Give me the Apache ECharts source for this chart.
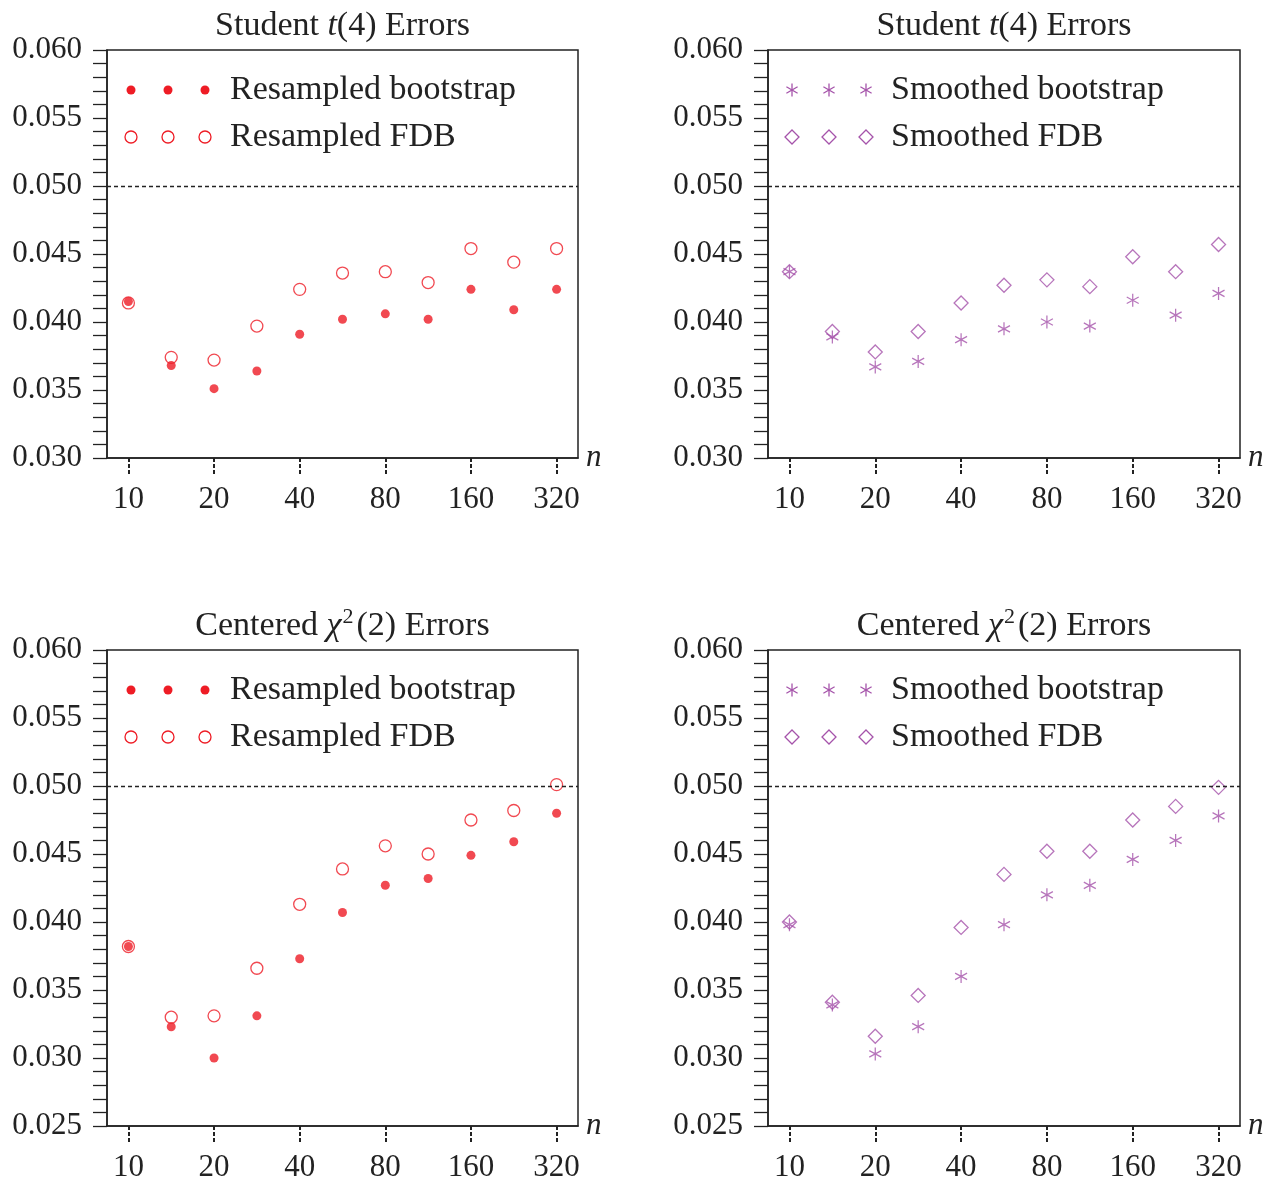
<!DOCTYPE html>
<html>
<head>
<meta charset="utf-8">
<title>Bootstrap test errors</title>
<script src="https://cdn.jsdelivr.net/npm/echarts@6.0.0/dist/echarts.min.js"></script>
<style>
  html, body { margin: 0; padding: 0; background: #fff; }
  #chart { width: 1270px; height: 1178px; }
</style>
</head>
<body>
<div id="chart"></div>
<script>
// sample sizes (log2 spacing, labels on every other one)
const sampleSizes = ['10', '14', '20', '28', '40', '57', '80', '113', '160', '226', '320'];

// Student t(4) errors
const t4ResampledBoot = [0.0415, 0.0368, 0.0351, 0.0364, 0.0391, 0.0402, 0.0406, 0.0402, 0.0424, 0.0409, 0.0424];
const t4ResampledFdb  = [0.0414, 0.0374, 0.0372, 0.0397, 0.0424, 0.0436, 0.0437, 0.0429, 0.0454, 0.0444, 0.0454];
const t4SmoothedBoot  = [0.0437, 0.0389, 0.0367, 0.0371, 0.0387, 0.0395, 0.0400, 0.0397, 0.0416, 0.0405, 0.0421];
const t4SmoothedFdb   = [0.0437, 0.0393, 0.0378, 0.0393, 0.0414, 0.0427, 0.0431, 0.0426, 0.0448, 0.0437, 0.0457];

// Centered chi^2(2) errors
const chiResampledBoot = [0.0382, 0.0323, 0.0300, 0.0331, 0.0373, 0.0407, 0.0427, 0.0432, 0.0449, 0.0459, 0.0480];
const chiResampledFdb  = [0.0382, 0.0330, 0.0331, 0.0366, 0.0413, 0.0439, 0.0456, 0.0450, 0.0475, 0.0482, 0.0501];
const chiSmoothedBoot  = [0.0398, 0.0339, 0.0303, 0.0323, 0.0360, 0.0398, 0.0420, 0.0427, 0.0446, 0.0460, 0.0478];
const chiSmoothedFdb   = [0.0400, 0.0341, 0.0316, 0.0346, 0.0396, 0.0435, 0.0452, 0.0452, 0.0475, 0.0485, 0.0499];

const nominalLevel = 0.05;

const RED = '#ee1c25';
const PURPLE = '#a553aa';
const INK = '#222';
const SERIF = '"Liberation Serif", "DejaVu Serif", serif';

const ASTERISK = 'path://M5,0L5,10M0.67,2.5L9.33,7.5M0.67,7.5L9.33,2.5';

const marks = {
  dot:      { symbol: 'circle',  symbolSize: 9,  itemStyle: { color: RED } },
  ring:     { symbol: 'circle',  symbolSize: 12, itemStyle: { color: 'rgba(0,0,0,0)', borderColor: RED, borderWidth: 1.3 } },
  asterisk: { symbol: ASTERISK,  symbolSize: [12, 13], itemStyle: { color: 'rgba(0,0,0,0)', borderColor: PURPLE, borderWidth: 1.3 } },
  diamond:  { symbol: 'diamond', symbolSize: [14, 14], itemStyle: { color: 'rgba(0,0,0,0)', borderColor: PURPLE, borderWidth: 1.3 } }
};

const panels = [
  { left: 107, top: 50,  width: 471, height: 408, yMin: 0.030, title: 'Student t(4)',
    series: [['Resampled bootstrap', t4ResampledBoot, 'dot'], ['Resampled FDB', t4ResampledFdb, 'ring']] },
  { left: 768, top: 50,  width: 472, height: 408, yMin: 0.030, title: 'Student t(4)',
    series: [['Smoothed bootstrap', t4SmoothedBoot, 'asterisk'], ['Smoothed FDB', t4SmoothedFdb, 'diamond']] },
  { left: 107, top: 650, width: 471, height: 476, yMin: 0.025, title: 'chi',
    series: [['Resampled bootstrap', chiResampledBoot, 'dot'], ['Resampled FDB', chiResampledFdb, 'ring']] },
  { left: 768, top: 650, width: 472, height: 476, yMin: 0.025, title: 'chi',
    series: [['Smoothed bootstrap', chiSmoothedBoot, 'asterisk'], ['Smoothed FDB', chiSmoothedFdb, 'diamond']] }
];

const titleRich = {
  a: { fontFamily: SERIF, fontSize: 34, fontWeight: 'normal', color: INK, lineHeight: 40 },
  i: { fontFamily: SERIF, fontSize: 34, fontWeight: 'normal', color: INK, fontStyle: 'italic', lineHeight: 40 },
  s: { fontFamily: SERIF, fontSize: 22, fontWeight: 'normal', color: INK, lineHeight: 24, verticalAlign: 'top', padding: [0, 3, 0, 1] }
};

const grids = [], xAxes = [], yAxes = [], series = [], titles = [], graphics = [];

panels.forEach((p, k) => {
  grids.push({ left: p.left, top: p.top, width: p.width, height: p.height,
               containLabel: false, outerBoundsMode: 'none',
               show: true, borderColor: INK, borderWidth: 1.5, backgroundColor: 'transparent' });

  xAxes.push({
    type: 'category', gridIndex: k, data: sampleSizes, boundaryGap: true,
    name: 'n', nameLocation: 'end', nameGap: 8,
    nameTextStyle: { fontFamily: SERIF, fontStyle: 'italic', fontSize: 31, color: INK },
    axisLine: { lineStyle: { color: INK, width: 1.5 } },
    axisTick: { show: true, interval: 1, alignWithLabel: true, inside: false, length: 18,
                lineStyle: { color: INK, width: 2, type: [4, 2] } },
    axisLabel: { interval: 1, margin: 26, fontFamily: SERIF, fontSize: 31, color: INK },
    splitLine: { show: false }
  });

  yAxes.push({
    type: 'value', gridIndex: k, min: p.yMin, max: 0.060, interval: 0.005,
    axisLine: { show: true, lineStyle: { color: INK, width: 1.5 } },
    axisTick: { show: true, length: 14, lineStyle: { color: INK, width: 1.3 } },
    minorTick: { show: true, splitNumber: 5, length: 14, lineStyle: { color: INK, width: 1.3 } },
    axisLabel: { margin: 25, fontFamily: SERIF, fontSize: 31, color: INK,
                 formatter: v => v.toFixed(3) },
    splitLine: { show: false }
  });

  p.series.forEach(([name, values, mark], j) => {
    const s = {
      name: name + ' ' + k, type: 'scatter', xAxisIndex: k, yAxisIndex: k,
      data: values, symbol: marks[mark].symbol, symbolSize: marks[mark].symbolSize,
      itemStyle: marks[mark].itemStyle, z: j === 0 ? 3 : 2, silent: true
    };
    if (j === 0) {
      s.markLine = {
        silent: true, symbol: 'none', label: { show: false },
        lineStyle: { color: INK, width: 1.3, type: [4, 3] },
        data: [{ yAxis: nominalLevel }]
      };
    }
    series.push(s);

    // legend: three repeated markers followed by the label
    const rowY = p.top + (j === 0 ? 40 : 87);
    [24, 61, 98].forEach(dx => {
      const cx = p.left + dx;
      const st = marks[mark].itemStyle;
      if (mark === 'dot' || mark === 'ring') {
        const r = (mark === 'dot' ? 9 : 12) / 2;
        graphics.push({ type: 'circle', shape: { cx: cx, cy: rowY, r: r },
          style: { fill: st.color, stroke: st.borderColor || null, lineWidth: st.borderWidth || 0 } });
      } else if (mark === 'diamond') {
        graphics.push({ type: 'polygon', shape: { points: [[cx, rowY - 7], [cx + 7, rowY], [cx, rowY + 7], [cx - 7, rowY]] },
          style: { fill: 'none', stroke: PURPLE, lineWidth: 1.3 } });
      } else {
        const h = 6.5, w = 5.6;
        graphics.push({ type: 'polyline', shape: { points: [[cx, rowY - h], [cx, rowY + h]] }, style: { stroke: PURPLE, lineWidth: 1.3 } });
        graphics.push({ type: 'polyline', shape: { points: [[cx - w, rowY - h / 2], [cx + w, rowY + h / 2]] }, style: { stroke: PURPLE, lineWidth: 1.3 } });
        graphics.push({ type: 'polyline', shape: { points: [[cx - w, rowY + h / 2], [cx + w, rowY - h / 2]] }, style: { stroke: PURPLE, lineWidth: 1.3 } });
      }
    });
    graphics.push({ type: 'text', x: p.left + 123, y: rowY,
      style: { text: name, fontFamily: SERIF, fontSize: 34, fill: INK, verticalAlign: 'middle', align: 'left' } });
  });

  const titleText = p.title === 'chi'
    ? '{a|Centered }{i|χ}{s|2}{a|(2) Errors}'
    : '{a|Student }{i|t}{a|(4) Errors}';
  titles.push({
    text: titleText, left: p.left + p.width / 2, top: p.top - 44, padding: 0,
    textAlign: 'center', textStyle: { fontWeight: 'normal', rich: titleRich }
  });
});

const chart = echarts.init(document.getElementById('chart'), null, { renderer: 'canvas' });
chart.setOption({
  backgroundColor: '#fff',
  animation: false,
  title: titles,
  grid: grids,
  xAxis: xAxes,
  yAxis: yAxes,
  series: series,
  graphic: graphics
});
</script>
</body>
</html>
